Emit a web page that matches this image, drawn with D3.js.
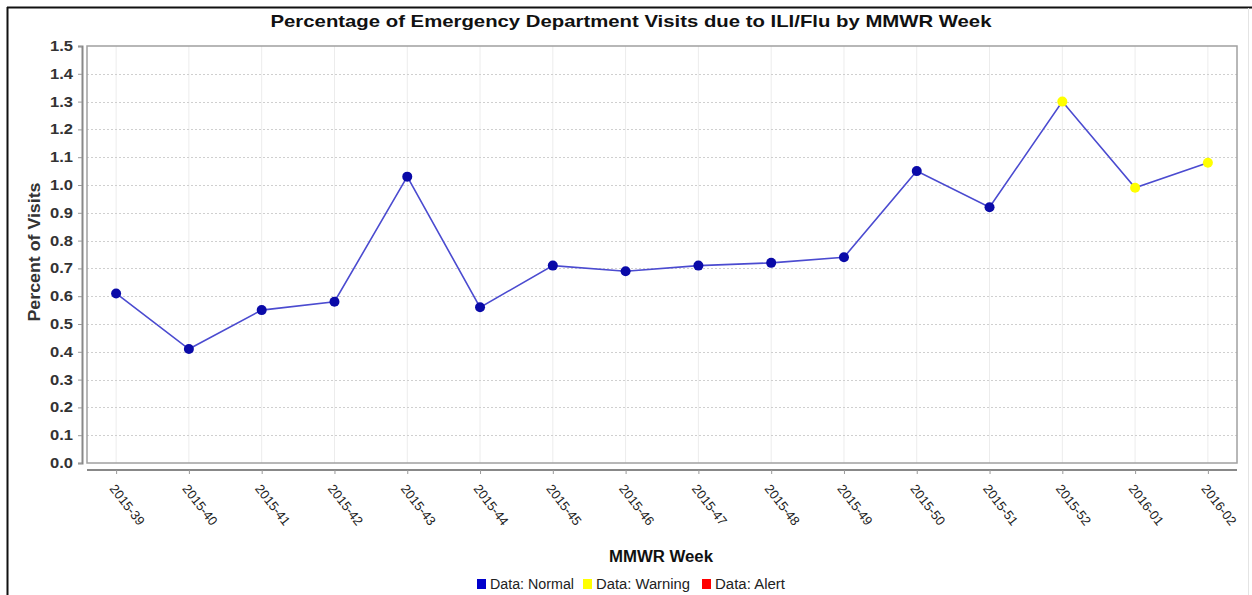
<!DOCTYPE html>
<html lang="en">
<head>
    <meta charset="UTF-8">
    <title>ED Visits due to ILI/Flu</title>
    <script src="https://d3js.org/d3.v7.min.js"></script>
    <style>
        body { margin: 0; background: #fff; }
        svg { font-family: "Liberation Sans", Arial, sans-serif; }
    </style>
</head>
<body>
    <svg width="1252" height="595"></svg>

    <script>
        // Data
        const weeks = ['2015-39', '2015-40', '2015-41', '2015-42', '2015-43', '2015-44', '2015-45', '2015-46',
                       '2015-47', '2015-48', '2015-49', '2015-50', '2015-51', '2015-52', '2016-01', '2016-02'];
        const percents = [0.61, 0.41, 0.55, 0.58, 1.03, 0.56, 0.71, 0.69, 0.71, 0.72, 0.74, 1.05, 0.92, 1.30, 0.99, 1.08];
        const statuses = ['Normal', 'Normal', 'Normal', 'Normal', 'Normal', 'Normal', 'Normal', 'Normal',
                          'Normal', 'Normal', 'Normal', 'Normal', 'Normal', 'Warning', 'Warning', 'Warning'];
        const yTicks = [0, 0.1, 0.2, 0.3, 0.4, 0.5, 0.6, 0.7, 0.8, 0.9, 1.0, 1.1, 1.2, 1.3, 1.4, 1.5];
        const legendItems = ['Normal', 'Warning', 'Alert'];

        const pointColor = { Normal: '#0a0aa8', Warning: '#ffff00', Alert: '#ff0000' };
        const legendColor = { Normal: '#0000cc', Warning: '#ffff00', Alert: '#ff0000' };

        const data = weeks.map((w, i) => ({ week: w, value: percents[i], status: statuses[i] }));

        const svg = d3.select('svg');

        // plot area
        const plot = { left: 87, right: 1237, top: 46, bottom: 463 };

        // outer border (top and left)
        svg.append('line').attr('x1', 7).attr('x2', 1252).attr('y1', 7.5).attr('y2', 7.5)
            .attr('stroke', '#111').attr('stroke-width', 2);
        svg.append('line').attr('x1', 7.5).attr('x2', 7.5).attr('y1', 7).attr('y2', 595)
            .attr('stroke', '#111').attr('stroke-width', 2);
        svg.append('line').attr('x1', 1248.5).attr('x2', 1248.5).attr('y1', 8).attr('y2', 595)
            .attr('stroke', '#e4e4e4').attr('stroke-width', 1);

        const x = d3.scalePoint().domain(weeks).range([plot.left, plot.right]).padding(0.4);
        const y = d3.scaleLinear().domain([0, 1.5]).range([plot.bottom, plot.top]);

        // gridlines
        svg.append('g').selectAll('line')
            .data(weeks)
            .join('line')
            .attr('x1', d => x(d)).attr('x2', d => x(d))
            .attr('y1', plot.top).attr('y2', plot.bottom)
            .attr('stroke', '#ececec').attr('stroke-width', 1);

        svg.append('g').selectAll('line')
            .data(yTicks.filter(t => t > 0 && t < 1.5))
            .join('line')
            .attr('x1', plot.left).attr('x2', plot.right)
            .attr('y1', d => Math.round(y(d)) + 0.5).attr('y2', d => Math.round(y(d)) + 0.5)
            .attr('stroke', '#cfcfcf').attr('stroke-width', 1)
            .attr('stroke-dasharray', '2,2');

        // plot frame
        svg.append('rect')
            .attr('x', plot.left).attr('y', plot.top)
            .attr('width', plot.right - plot.left).attr('height', plot.bottom - plot.top)
            .attr('fill', 'none').attr('stroke', '#a0a0a0').attr('stroke-width', 1.5);

        // y axis (offset left of plot)
        const yAxis = svg.append('g')
            .attr('transform', 'translate(82,0)')
            .call(d3.axisLeft(y).tickValues(yTicks).tickFormat(d3.format('.1f')).tickSize(4).tickPadding(5));
        yAxis.select('.domain').attr('stroke', '#888').attr('stroke-width', 2);
        yAxis.selectAll('.tick line').attr('stroke', '#999');
        yAxis.selectAll('.tick text')
            .attr('fill', '#333')
            .attr('textLength', 23)
            .attr('lengthAdjust', 'spacingAndGlyphs')
            .style('font-size', '14px')
            .style('font-weight', 'bold');

        // x axis (offset below plot)
        const xAxis = svg.append('g')
            .attr('transform', 'translate(0,470)')
            .call(d3.axisBottom(x).tickSize(4).tickSizeOuter(0));
        xAxis.select('.domain').attr('stroke', '#888').attr('stroke-width', 2)
            .attr('d', `M${plot.left},0H${plot.right}`);
        xAxis.selectAll('.tick line').attr('stroke', '#999');
        xAxis.selectAll('.tick text')
            .attr('fill', '#222')
            .style('font-size', '13px')
            .attr('text-anchor', 'start')
            .attr('dy', '0.35em')
            .attr('transform', 'translate(-4,16) rotate(52)')
            .attr('x', 0).attr('y', 0);

        // line + points
        const line = d3.line().x(d => x(d.week)).y(d => y(d.value));
        svg.append('path')
            .datum(data)
            .attr('d', line)
            .attr('fill', 'none')
            .attr('stroke', '#4b4bd0')
            .attr('stroke-width', 1.6);

        svg.append('g').selectAll('circle')
            .data(data)
            .join('circle')
            .attr('cx', d => x(d.week))
            .attr('cy', d => y(d.value))
            .attr('r', 5)
            .attr('fill', d => pointColor[d.status]);

        // titles
        svg.append('text')
            .attr('x', 631).attr('y', 27)
            .attr('text-anchor', 'middle')
            .attr('textLength', 721).attr('lengthAdjust', 'spacingAndGlyphs')
            .style('font-size', '17px').style('font-weight', 'bold')
            .attr('fill', '#111')
            .text('Percentage of Emergency Department Visits due to ILI/Flu by MMWR Week');

        svg.append('text')
            .attr('transform', 'translate(40,252) rotate(-90)')
            .attr('text-anchor', 'middle')
            .attr('textLength', 139).attr('lengthAdjust', 'spacingAndGlyphs')
            .style('font-size', '16px').style('font-weight', 'bold')
            .attr('fill', '#333')
            .text('Percent of Visits');

        svg.append('text')
            .attr('x', 661).attr('y', 562)
            .attr('text-anchor', 'middle')
            .attr('textLength', 104).attr('lengthAdjust', 'spacingAndGlyphs')
            .style('font-size', '16px').style('font-weight', 'bold')
            .attr('fill', '#111')
            .text('MMWR Week');

        // legend
        const legendX = [477, 583, 702];
        const legendTextLen = [84, 94, 70];
        const legend = svg.append('g').selectAll('g')
            .data(legendItems)
            .join('g')
            .attr('transform', (d, i) => `translate(${legendX[i]},579)`);
        legend.append('rect')
            .attr('width', 9).attr('height', 10)
            .attr('fill', d => legendColor[d]);
        legend.append('text')
            .attr('x', 13).attr('y', 10)
            .attr('textLength', (d, i) => legendTextLen[i]).attr('lengthAdjust', 'spacingAndGlyphs')
            .style('font-size', '14px')
            .attr('fill', '#222')
            .text(d => 'Data: ' + d);
    </script>
</body>
</html>
